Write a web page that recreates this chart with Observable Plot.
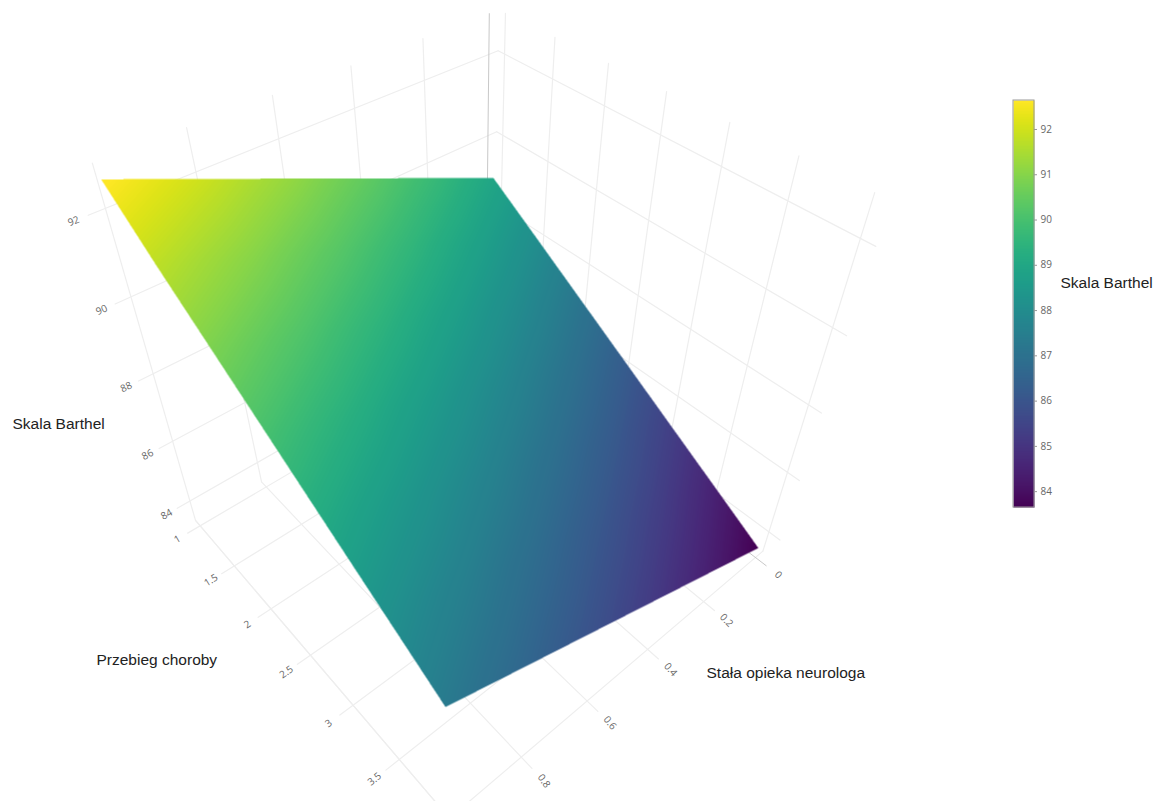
<!DOCTYPE html>
<html><head><meta charset="utf-8">
<script src="https://cdn.jsdelivr.net/npm/d3@7"></script>
<script src="https://cdn.jsdelivr.net/npm/@observablehq/plot@0.6"></script>
<style>html,body{margin:0;background:#fff}svg{display:block}</style></head>
<body><div id="c"></div>
<script>
// Data
const neurologTicks = [0, 0.2, 0.4, 0.6, 0.8];
const przebiegTicks = [1, 1.5, 2, 2.5, 3, 3.5];
const barthelTicks = [84, 86, 88, 90, 92];
const colorbarTicks = [84, 85, 86, 87, 88, 89, 90, 91, 92];
const surfaceNeurolog = [0, 0.2, 0.4, 0.6, 0.8, 1];
const surfacePrzebieg = [1, 1.5, 2, 2.5, 3, 3.5, 4];
const surfaceBarthel = [
  [88.96, 89.71, 90.45, 91.20, 91.95, 92.70],
  [88.08, 88.81, 89.55, 90.28, 91.02, 91.75],
  [87.19, 87.93, 88.66, 89.40, 90.13, 90.87],
  [86.31, 87.04, 87.78, 88.51, 89.25, 89.98],
  [85.42, 86.16, 86.89, 87.63, 88.36, 89.10],
  [84.54, 85.27, 86.01, 86.74, 87.48, 88.21],
  [83.65, 84.39, 85.12, 85.86, 86.59, 87.33]
];
const barthelRange = [83.65, 92.64];
const axisTitle = "Skala Barthel", xTitle = "Stała opieka neurologa", yTitle = "Przebieg choroby";

// Scene box (axis ranges) and the camera of the 3D view
const Xlo = -0.03, Xhi = 1, Ylo = 0.93, Yhi = 4, Zlo = 83.3, Zhi = 92.92;
const camera = [
  [-0.339434, 0.046907, -0.059991, 0.415160],
  [0.096071, 0.037095, -0.187998, 0.161241],
  [-0.160969, -0.061556, -0.126992, 1]
];
function project(X, Y, Z) {
  const v = [X, Y, (Z - 88) / 5, 1];
  const dot = r => d3.sum(r, (c, i) => c * v[i]);
  const w = dot(camera[2]);
  return {px: 1000 * dot(camera[0]) / w, py: 1000 * dot(camera[1]) / w};
}

// Grid lines on the walls and floor
const lines = [];
const seg = (a, b) => { const id = lines.length / 2; lines.push({id, ...project(...a)}, {id, ...project(...b)}); };
const tickOut = 0.036, yTickOut = 0.1;
for (const z of barthelTicks) {
  seg([Xlo, Ylo, z], [Xhi + tickOut, Ylo, z]);
  seg([Xlo, Ylo, z], [Xlo, Yhi + yTickOut, z]);
}
for (const x of [...neurologTicks.slice(1), Xhi]) {
  seg([x, Ylo, Zlo], [x, Ylo, Zhi]);
  seg([x, Ylo, Zlo], [x, Yhi + yTickOut, Zlo]);
}
for (const y of [...przebiegTicks, Yhi]) {
  seg([Xlo, y, Zlo], [Xlo, y, Zhi]);
  if (y < Yhi) seg([Xlo, y, Zlo], [Xhi + tickOut, y, Zlo]);
}
seg([Xlo, Yhi, Zlo], [Xhi, Yhi, Zlo]);
seg([Xhi, Ylo, Zlo], [Xhi, Yhi + 0.3, Zlo]);
const zeroLines = [
  {id: 0, ...project(0, Ylo, Zlo)}, {id: 0, ...project(0, Ylo, Zhi)},
  {id: 1, ...project(0, Ylo, Zlo)}, {id: 1, ...project(0, Yhi + yTickOut, Zlo)}
];

// Surface mesh
const mesh = surfacePrzebieg.flatMap((y, j) => surfaceNeurolog.map((x, i) => ({...project(x, y, surfaceBarthel[j][i]), z: surfaceBarthel[j][i]})));

// Tick labels, turned along the projected tick direction
function label(text, from, to, turn = 0) {
  const a = project(...from), b = project(...to);
  return {text, ...b, angle: turn + Math.atan((b.py - a.py) / (b.px - a.px)) * 180 / Math.PI};
}
const labels = [
  ...barthelTicks.map(z => label(String(z), [Xhi, Ylo, z], [Xhi + 0.066, Ylo, z])),
  ...przebiegTicks.map(y => label(String(y), [Xhi, y, Zlo], [Xhi + 0.066, y, Zlo])),
  ...neurologTicks.map(x => label(String(x), [x, Yhi, Zlo], [x, Yhi + 0.21, Zlo], 7))
];

// Interpolate inside the mesh only
function insideMesh(index, w, h, X, Y, V) {
  const W = Plot.interpolatorBarycentric()(index, w, h, X, Y, V);
  const hull = d3.polygonHull(Array.from(index, i => [X[i], Y[i]]));
  for (let j = 0; j < h; ++j) for (let i = 0; i < w; ++i)
    if (!d3.polygonContains(hull, [i + 0.5, j + 0.5])) W[j * w + i] = NaN;
  return W;
}

const bar = {x1: 1013, x2: 1034, y1: 100, y2: 507};
const barY = d3.scaleLinear(barthelRange, [bar.y2, bar.y1]);
const tickFont = {fontFamily: "Open Sans", fontSize: 10, fill: "#666"};
const titleFont = {fontFamily: "Liberation Sans", fontSize: 15.5, fill: "#222", textAnchor: "start"};

document.getElementById("c").append(Plot.plot({
  width: 1154, height: 801, margin: 0,
  style: {background: "#fff"},
  x: {axis: null, domain: [0, 1154], range: [0, 1154]},
  y: {axis: null, domain: [0, 801], range: [0, 801]},
  color: {type: "linear", scheme: "viridis", domain: barthelRange},
  marks: [
    Plot.line(lines, {x: "px", y: "py", z: "id", stroke: "#eeeeee", strokeWidth: 1.2}),
    Plot.line(zeroLines, {x: "px", y: "py", z: "id", stroke: "#c8c8c8", strokeWidth: 1}),
    Plot.raster(mesh, {x: "px", y: "py", fill: "z", interpolate: insideMesh, pixelSize: 0.5,
      x1: 90, x2: 770, y1: 170, y2: 715}),
    Plot.text(labels, {x: "px", y: "py", text: "text", rotate: "angle", ...tickFont}),
    // colour bar
    Plot.raster({fill: (x, y) => barY.invert(y), ...bar, pixelSize: 1}),
    Plot.rect([bar], {x1: "x1", x2: "x2", y1: "y1", y2: "y2", stroke: "#999", fill: "none"}),
    Plot.ruleY(colorbarTicks, {y: d => barY(d), x1: bar.x2, x2: bar.x2 + 3, stroke: "#999"}),
    Plot.text(colorbarTicks, {x: bar.x2 + 6, y: d => barY(d), text: d => String(d), ...tickFont, textAnchor: "start"}),
    // axis titles
    Plot.text([axisTitle], {x: 12, y: 424, text: d => d, ...titleFont}),
    Plot.text([yTitle], {x: 96, y: 660, text: d => d, ...titleFont}),
    Plot.text([xTitle], {x: 706, y: 673, text: d => d, ...titleFont}),
    Plot.text([axisTitle], {x: 1060, y: 283, text: d => d, ...titleFont})
  ]
}));
</script></body></html>
